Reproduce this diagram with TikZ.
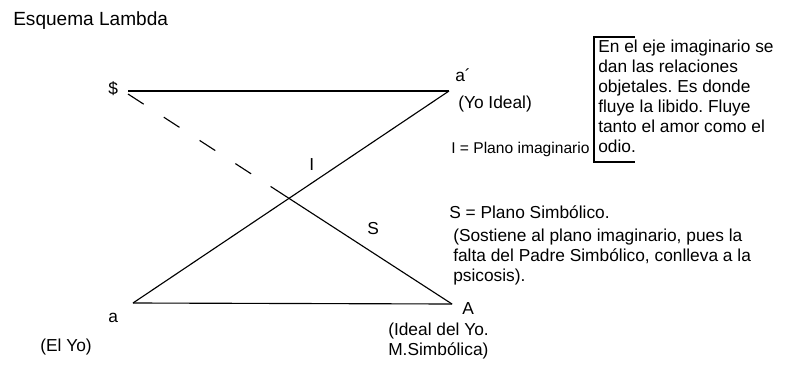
\documentclass[tikz,border=0pt]{standalone}
\usepackage{fontspec}
\setmainfont{Liberation Sans}
\usepackage{tikz}
\usetikzlibrary{positioning}
\frenchspacing

\begin{document}
\begin{tikzpicture}[
  x=0.75pt, y=-0.75pt,
  lbl/.style={inner sep=0pt, anchor=west, font=\fontsize{13}{15}\selectfont},
  para/.style={inner sep=0pt, anchor=north west, align=left,
               font=\fontsize{13}{15}\selectfont},
  axis/.style={line width=0.85pt},
  imaxis/.style={line width=0.85pt, dash pattern=on 14pt off 18pt}
]
  \useasboundingbox (0,0) rectangle (811,365);

  \node[lbl, font=\fontsize{14.3}{16}\selectfont] (title) at (13,21) {Esquema Lambda};

  % corners of the schema
  \coordinate (barS)   at (128,94);
  \coordinate (aprime) at (449,91);
  \coordinate (a)      at (133,303);
  \coordinate (A)      at (452,304);

  \node[lbl] (barSlbl)   at (108,89)  {\$};
  \node[lbl] (aprimelbl) at (455,75)  {a´};
  \node[lbl] (yoideal)   at (458,104) {(Yo Ideal)};
  \node[lbl] (albl)      at (108,318) {a};
  \node[lbl] (elyo)      at (40,347)  {(El Yo)};
  \node[lbl] (Albl)      at (462,309) {A};
  \node[para] (idealyo)  at (388,323) {(Ideal del Yo.\\M.Simbólica)};

  % lines
  \draw[axis] (barS |- aprime) -- (aprime);
  \draw[axis] (a) -- (A);
  \draw[axis] (a) -- (aprime);
  \path (barS) -- (A) coordinate[pos=0.44] (symcut);
  \draw[imaxis] (barS) -- (symcut);
  \draw[axis] (symcut) -- (A);

  \node[lbl] (Ilbl) at (309,165) {I};
  \node[lbl] (Slbl) at (367,229) {S};

  % legends
  \node[lbl, font=\fontsize{11.7}{15}\selectfont] (Ileg) at (451,149) {I = Plano imaginario};
  \node[lbl] (Sleg) at (449,212) {S = Plano Simbólico.};
  \node[para] (Snote) at (453,229)
    {(Sostiene al plano imaginario, pues la\\
      falta del Padre Simbólico, conlleva a la\\
      psicosis).};

  % note on the imaginary axis
  \node[para] (imnote) at (598,40)
    {En el eje imaginario se\\dan las relaciones\\objetales. Es donde\\
     fluye la libido. Fluye\\tanto el amor como el\\odio.};
  \draw[line width=0.85pt] (635,37) -- (594,37) -- (594,162) -- (635,162);
\end{tikzpicture}
\end{document}
